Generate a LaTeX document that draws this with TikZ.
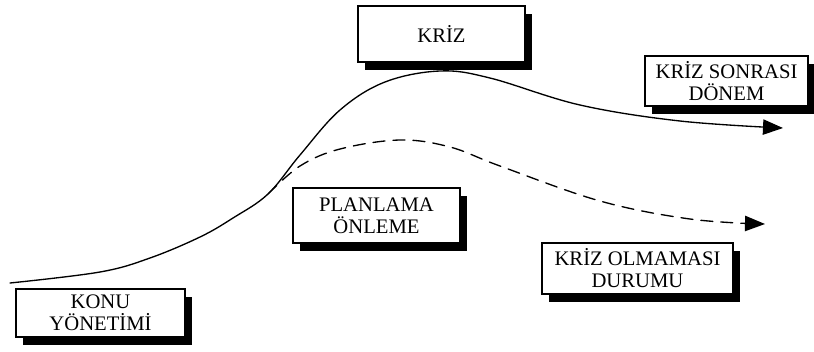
\documentclass[tikz,border=0pt]{standalone}
\usepackage{fontspec}
\setmainfont{Liberation Serif}
\usetikzlibrary{arrows.meta,shadows}
\tikzset{
  label box/.style={draw, fill=white, line width=0.8pt, align=center,
    inner sep=0pt, font=\fontsize{15.5}{16.5}\selectfont,
    general shadow={fill=black, shadow xshift=5.5pt, shadow yshift=-6pt}},
  curve/.style={line width=1pt, line cap=round},
  tip/.style={-{Triangle[length=15pt,width=11.5pt]}},
  nocrisis/.style={dash pattern=on 9pt off 6pt}
}
\begin{document}
\begin{tikzpicture}[x=0.75pt,y=-0.75pt]
  \useasboundingbox (0,0) rectangle (814,351);

  % phase labels
  \node[label box, minimum width=126.75pt, minimum height=36pt]
    (konu) at (100.5,313) {KONU\\YÖNETİMİ};
  \node[label box, minimum width=125.25pt, minimum height=41.25pt]
    (plan) at (376.5,215.5) {PLANLAMA\\ÖNLEME};
  \node[label box, minimum width=125.25pt, minimum height=42pt]
    (kriz) at (441.5,34) {KRİZ};
  \node[label box, minimum width=122.25pt, minimum height=37.5pt]
    (sonra) at (726.5,81) {KRİZ SONRASI\\DÖNEM};
  \node[label box, minimum width=143.25pt, minimum height=38.25pt]
    (yok) at (637.5,268.5) {KRİZ OLMAMASI\\DURUMU};

  % curve end points
  \coordinate (start) at (10,283);
  \coordinate (fork) at (268,194);
  \coordinate (endA) at (783,128);
  \coordinate (endB) at (765,224);

  % crisis course
  \draw[curve, tip] plot[smooth, tension=0.6] coordinates {
    (start) (100,272) (150,258) (200,237) (233,218) (fork) (300,155)
    (340,110) (385,82) (440,71) (490,78) (580,105) (680,121) (endA)};

  % course when the crisis is averted
  \draw[curve, nocrisis, tip] plot[smooth, tension=0.6] coordinates {
    (fork) (300,166) (340,149) (400,140) (450,147) (500,166)
    (600,201) (690,219) (endB)};
\end{tikzpicture}
\end{document}
